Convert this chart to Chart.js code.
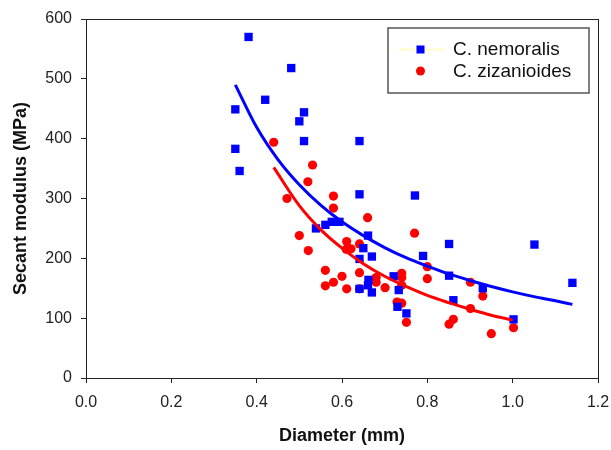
<!DOCTYPE html>
<html>
<head>
<meta charset="utf-8">
<script src="https://cdn.jsdelivr.net/npm/chart.js@4.4.1/dist/chart.umd.min.js"></script>
<style>
  html, body { margin: 0; padding: 0; background: #fff; }
  #wrap { width: 611px; height: 450px; }
</style>
</head>
<body>
<div id="wrap"><canvas id="chart" width="611" height="450"></canvas></div>
<script>
// measured points, C. nemoralis
const nemoralisDiameter = [0.381, 0.481, 0.420, 0.350, 0.511, 0.500, 0.511, 0.641, 0.350, 0.360,
  0.641, 0.771, 0.539, 0.561, 0.576, 0.594, 0.661, 0.851, 0.650, 0.670,
  0.641, 0.790, 0.851, 0.930, 0.721, 0.733, 0.662, 0.661, 0.670, 0.641,
  0.861, 0.730, 0.751, 1.051, 1.140, 1.002];
const nemoralisModulus = [570, 518, 465, 449, 444, 429, 396, 396, 383, 346,
  307, 305, 250, 256, 261, 261, 238, 224, 217, 203,
  199, 204, 171, 150, 170, 147, 164, 155, 143, 149,
  130, 119, 108, 223, 159, 98];

// measured points, C. zizanioides
const zizanioidesDiameter = [0.440, 0.531, 0.520, 0.471, 0.580, 0.580, 0.660, 0.500, 0.521, 0.611,
  0.610, 0.621, 0.641, 0.770, 0.561, 0.600, 0.580, 0.561, 0.611, 0.641,
  0.641, 0.680, 0.680, 0.701, 0.740, 0.740, 0.740, 0.729, 0.740, 0.751,
  0.800, 0.800, 0.901, 0.930, 0.901, 0.851, 0.861, 0.950, 1.002];
const zizanioidesModulus = [394, 356, 328, 300, 304, 284, 268, 238, 213, 228,
  215, 216, 224, 242, 180, 170, 160, 154, 149, 176,
  149, 168, 160, 151, 175, 168, 155, 127, 125, 93,
  186, 166, 160, 137, 116, 90, 98, 74, 84];

// fitted curves
const nemoralisFitDiameter = [0.35, 0.40, 0.45, 0.50, 0.55, 0.60, 0.65, 0.70, 0.75, 0.80, 0.85, 0.90, 0.95, 1.00, 1.05, 1.10, 1.14];
const nemoralisFitModulus  = [490, 419, 365, 323, 289, 261, 238, 218, 201, 187, 174, 163, 153, 144, 136, 129, 123];
const zizanioidesFitDiameter = [0.44, 0.50, 0.55, 0.60, 0.65, 0.70, 0.75, 0.80, 0.85, 0.90, 0.95, 1.00];
const zizanioidesFitModulus  = [352, 288, 248, 217, 191, 170, 153, 138, 126, 115, 105, 97];

const xTicks = [0.0, 0.2, 0.4, 0.6, 0.8, 1.0, 1.2];
const yTicks = [0, 100, 200, 300, 400, 500, 600];

const toPoints = (xs, ys) => xs.map((x, i) => ({ x: x, y: ys[i] }));

const FONT = "'Liberation Sans', Arial, sans-serif";
const BLUE = '#0000ff';
const RED = '#ff0000';

// box frame + legend like the original figure
const framePlugin = {
  id: 'frame',
  afterDraw(chart) {
    const { ctx, chartArea: a } = chart;
    ctx.save();
    ctx.strokeStyle = '#222';
    ctx.lineWidth = 1;
    ctx.strokeRect(a.left + 0.5, a.top + 0.5, a.right - a.left, a.bottom - a.top);

    // legend
    ctx.strokeStyle = '#555';
    ctx.lineWidth = 1.5;
    ctx.fillStyle = '#fff';
    ctx.fillRect(388, 28, 201, 65);
    ctx.strokeRect(388, 28, 201, 65);

    ctx.strokeStyle = '#ffffc8';
    ctx.lineWidth = 2;
    ctx.beginPath();
    ctx.moveTo(399, 49.5);
    ctx.lineTo(443, 49.5);
    ctx.stroke();
    ctx.fillStyle = BLUE;
    ctx.fillRect(416.5, 45.5, 8, 8);
    ctx.fillStyle = RED;
    ctx.beginPath();
    ctx.arc(420.5, 71, 4.5, 0, Math.PI * 2);
    ctx.fill();

    ctx.fillStyle = '#111';
    ctx.font = '19px ' + FONT;
    ctx.textBaseline = 'middle';
    ctx.textAlign = 'left';
    ctx.fillText('C. nemoralis', 453, 49.5);
    ctx.fillText('C. zizanioides', 453, 71.5);
    ctx.restore();
  }
};

new Chart(document.getElementById('chart'), {
  type: 'scatter',
  data: {
    datasets: [
      {
        label: 'C. nemoralis fit',
        type: 'line',
        data: toPoints(nemoralisFitDiameter, nemoralisFitModulus),
        borderColor: BLUE,
        borderWidth: 3,
        pointRadius: 0,
        fill: false,
        cubicInterpolationMode: 'monotone'
      },
      {
        label: 'C. zizanioides fit',
        type: 'line',
        data: toPoints(zizanioidesFitDiameter, zizanioidesFitModulus),
        borderColor: RED,
        borderWidth: 3,
        pointRadius: 0,
        fill: false,
        cubicInterpolationMode: 'monotone'
      },
      {
        label: 'C. nemoralis',
        data: toPoints(nemoralisDiameter, nemoralisModulus),
        pointStyle: 'rect',
        pointRadius: 5.9,
        backgroundColor: BLUE,
        borderColor: BLUE,
        borderWidth: 0
      },
      {
        label: 'C. zizanioides',
        data: toPoints(zizanioidesDiameter, zizanioidesModulus),
        pointStyle: 'circle',
        pointRadius: 4.6,
        backgroundColor: RED,
        borderColor: RED,
        borderWidth: 0
      }
    ]
  },
  options: {
    responsive: false,
    animation: false,
    layout: { padding: { left: 0, right: 13, top: 19, bottom: 0 } },
    plugins: {
      legend: { display: false },
      tooltip: { enabled: false }
    },
    scales: {
      x: {
        type: 'linear',
        min: 0,
        max: 1.2,
        afterFit: s => { s.height = 72; s.paddingLeft = 0; s.paddingRight = 0; },
        afterBuildTicks: s => { s.ticks = xTicks.map(v => ({ value: v })); },
        grid: { display: true, drawOnChartArea: false, drawTicks: true, tickLength: 5, color: '#222' },
        border: { display: true, color: '#222', width: 1 },
        ticks: {
          color: '#222',
          padding: 10,
          font: { family: FONT, size: 16 },
          callback: v => v.toFixed(1)
        },
        title: {
          display: true,
          text: 'Diameter (mm)',
          color: '#111',
          font: { family: FONT, size: 18, weight: 'bold' },
          padding: { top: 0, bottom: 3 }
        }
      },
      y: {
        type: 'linear',
        min: 0,
        max: 600,
        afterFit: s => { s.width = 86; s.paddingTop = 0; s.paddingBottom = 0; },
        afterBuildTicks: s => { s.ticks = yTicks.map(v => ({ value: v })); },
        grid: { display: true, drawOnChartArea: false, drawTicks: true, tickLength: 5, color: '#222' },
        border: { display: true, color: '#222', width: 1 },
        ticks: {
          color: '#222',
          padding: 9,
          font: { family: FONT, size: 16 }
        },
        title: {
          display: true,
          text: 'Secant modulus (MPa)',
          color: '#111',
          font: { family: FONT, size: 18, weight: 'bold' },
          padding: { top: 10, bottom: 0 }
        }
      }
    }
  },
  plugins: [framePlugin]
});
</script>
</body>
</html>
